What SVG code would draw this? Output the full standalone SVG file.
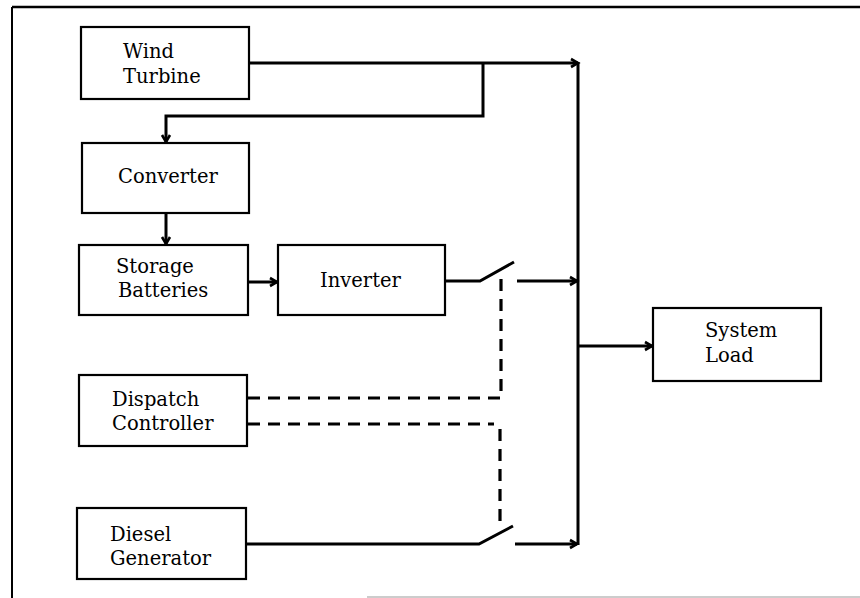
<svg xmlns="http://www.w3.org/2000/svg" width="860" height="598" viewBox="0 0 860 598">
<style>
.box{fill:#fff;stroke:#000;stroke-width:2.2}
.t{font-family:"DejaVu Serif","Liberation Serif",serif;font-size:19.5px;fill:#000}
.c{fill:none;stroke:#000;stroke-width:3}
.d{fill:none;stroke:#000;stroke-width:3.2;stroke-dasharray:12 8}
</style>
<defs>
<marker id="ah" markerWidth="12" markerHeight="12" refX="9" refY="5" orient="auto" markerUnits="userSpaceOnUse" viewBox="0 0 12 10">
<path d="M2,1 L9,5 L2,9" fill="none" stroke="#000" stroke-width="2.6"/>
</marker>
</defs>
<rect width="860" height="598" fill="#fff"/>
<g id="frame">
<line x1="12" y1="7" x2="860" y2="7" stroke="#000" stroke-width="2.4"/>
<line x1="12" y1="7" x2="12" y2="598" stroke="#000" stroke-width="2"/>
<line x1="367" y1="597" x2="860" y2="597" stroke="#bbb" stroke-width="1.5"/>
</g>
<g id="connectors">
<polyline class="c" points="249,63 578,63" marker-end="url(#ah)"/>
<polyline class="c" points="483,63 483,116 166,116 166,142" marker-end="url(#ah)"/>
<polyline class="c" points="166,213 166,244" marker-end="url(#ah)"/>
<polyline class="c" points="248,282 277,282" marker-end="url(#ah)"/>
<polyline class="c" points="445,281 480,281 514,262"/>
<polyline class="c" points="517,281 577,281" marker-end="url(#ah)"/>
<line class="c" x1="578" y1="62" x2="578" y2="545"/>
<polyline class="c" points="578,346 652,346" marker-end="url(#ah)"/>
<polyline class="c" points="246,544 479,544 513,526"/>
<polyline class="c" points="515,544 577,544" marker-end="url(#ah)"/>
<polyline class="d" points="248,398 501,398 501,277"/>
<polyline class="d" points="248,424 494,424"/>
<line class="d" x1="500" y1="429" x2="500" y2="527"/>
</g>
<g id="wind">
<rect class="box" x="81" y="27" width="168" height="72"/>
<text class="t" x="123" y="58">Wind</text>
<text class="t" x="123" y="83">Turbine</text>
</g>
<g id="converter">
<rect class="box" x="82" y="143" width="167" height="70"/>
<text class="t" x="118" y="183">Converter</text>
</g>
<g id="storage">
<rect class="box" x="79" y="245" width="169" height="70"/>
<text class="t" x="116" y="273">Storage</text>
<text class="t" x="118" y="297">Batteries</text>
</g>
<g id="inverter">
<rect class="box" x="278" y="245" width="167" height="70"/>
<text class="t" x="320" y="287">Inverter</text>
</g>
<g id="dispatch">
<rect class="box" x="79" y="375" width="168" height="71"/>
<text class="t" x="112" y="406">Dispatch</text>
<text class="t" x="112" y="430">Controller</text>
</g>
<g id="diesel">
<rect class="box" x="77" y="508" width="169" height="71"/>
<text class="t" x="110" y="541">Diesel</text>
<text class="t" x="110" y="565">Generator</text>
</g>
<g id="load">
<rect class="box" x="653" y="308" width="168" height="73"/>
<text class="t" x="705" y="337">System</text>
<text class="t" x="705" y="362">Load</text>
</g>
</svg>
